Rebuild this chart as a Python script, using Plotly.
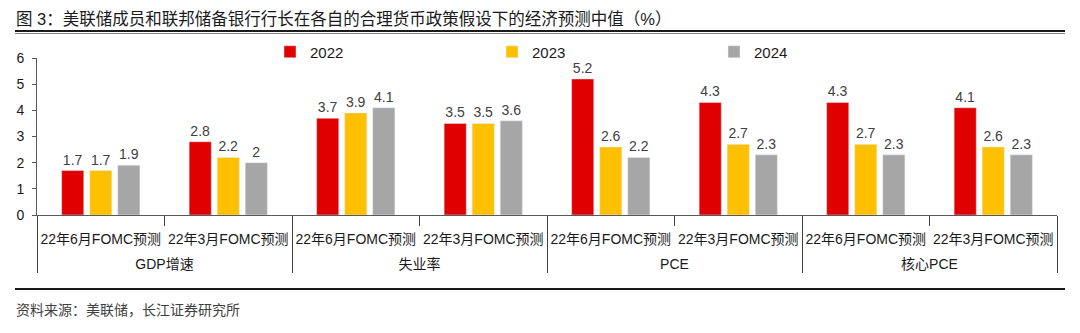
import plotly.graph_objects as go

groups = ["GDP增速", "GDP增速", "失业率", "失业率", "PCE", "PCE", "核心PCE", "核心PCE"]
subcats = ["22年6月FOMC预测", "22年3月FOMC预测"] * 4
v2022 = [1.7, 2.8, 3.7, 3.5, 5.2, 4.3, 4.3, 4.1]
v2023 = [1.7, 2.2, 3.9, 3.5, 2.6, 2.7, 2.7, 2.6]
v2024 = [1.9, 2.0, 4.1, 3.6, 2.2, 2.3, 2.3, 2.3]
series = [("2022", v2022, "#E00000"), ("2023", v2023, "#FFC000"), ("2024", v2024, "#A6A6A6")]

FONT = "Liberation Sans, Noto Sans CJK SC, Arial, sans-serif"

# plot area in pixels
L, R, T, B = 37, 23, 58, 118
W, H = 1080, 333
PW, PH = W - L - R, H - T - B


def px(xp):
    return (xp - L) / PW


def py(yp):
    return (H - B - yp) / PH


# the group row sits one blank line lower, as in the reference
group_labels = ["<br>" + g for g in groups]

fig = go.Figure()
for name, vals, col in series:
    fig.add_trace(go.Bar(
        x=[group_labels, subcats], y=vals, name=name, marker_color=col,
        text=[f"{v:g}" for v in vals], textposition="outside",
        textfont=dict(size=14, color="#404040"), cliponaxis=False,
    ))

fig.update_layout(
    width=W, height=H,
    margin=dict(l=L, r=R, t=T, b=B, autoexpand=False),
    paper_bgcolor="white", plot_bgcolor="white",
    font=dict(family=FONT, size=14, color="#1a1a1a"),
    barmode="group", bargap=0.34, bargroupgap=0.21,
    showlegend=True,
    legend=dict(orientation="h", x=px(270), y=py(52), xanchor="left", yanchor="middle",
                entrywidth=177, entrywidthmode="pixels", itemwidth=30,
                font=dict(size=15, color="#1a1a1a"),
                bgcolor="rgba(0,0,0,0)"),
    xaxis=dict(type="multicategory", showline=True, linecolor="#595959", linewidth=1,
               ticks="outside", ticklen=10, tickcolor="#404040", showdividers=True,
               dividercolor="#404040", dividerwidth=1, tickangle=0, automargin=False,
               ticklabelstandoff=11,
               tickfont=dict(size=14, color="#1a1a1a")),
    yaxis=dict(range=[0, 6], dtick=1, showgrid=False, showline=True,
               linecolor="#595959", linewidth=1, ticks="outside", ticklen=4,
               tickcolor="#595959", zeroline=False, automargin=False,
               ticklabelstandoff=5,
               tickfont=dict(size=14, color="#1a1a1a")),
)

fig.add_annotation(text="图 3：美联储成员和联邦储备银行行长在各自的合理货币政策假设下的经济预测中值（%）",
                   xref="paper", yref="paper", x=px(14), y=py(19),
                   xanchor="left", yanchor="middle", showarrow=False,
                   font=dict(size=16.5, color="#1a1a1a", family=FONT))
fig.add_shape(type="line", xref="paper", yref="paper", x0=px(15), x1=px(1065),
              y0=py(31), y1=py(31), line=dict(color="#1a1a1a", width=2))
fig.add_shape(type="line", xref="paper", yref="paper", x0=px(15), x1=px(1065),
              y0=py(33.5), y1=py(33.5), line=dict(color="#808080", width=1))
fig.add_shape(type="line", xref="paper", yref="paper", x0=px(15), x1=px(1065),
              y0=py(289), y1=py(289), line=dict(color="#1a1a1a", width=2))
fig.add_annotation(text="资料来源：美联储，长江证券研究所", xref="paper", yref="paper",
                   x=px(14), y=py(310), xanchor="left", yanchor="middle",
                   showarrow=False, font=dict(size=14, color="#404040", family=FONT))

fig.write_html("out.html")
